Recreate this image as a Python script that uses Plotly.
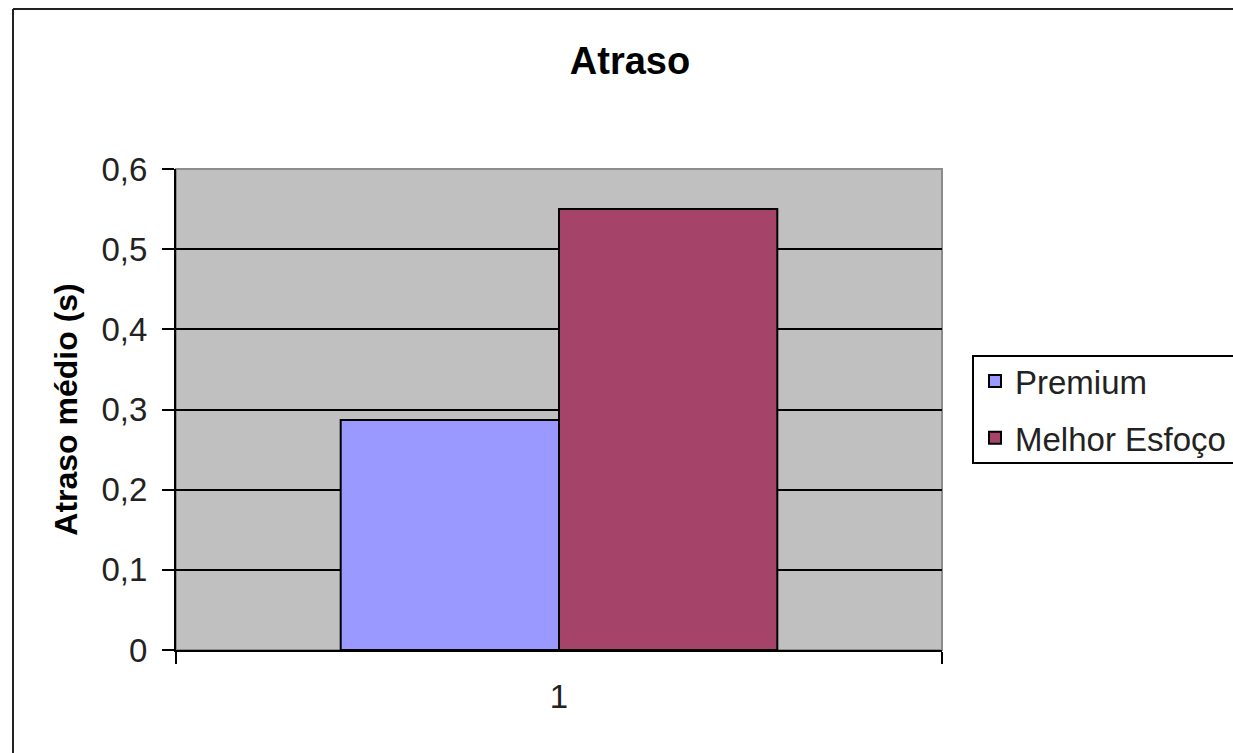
import plotly.graph_objects as go

# Data
categories = ["1"]
series_names = ["Premium", "Melhor Esfoço"]
premium_values = [0.287]
melhor_esforco_values = [0.55]
series_colors = ["#9999FF", "#A54468"]

y_tick_values = [0, 0.1, 0.2, 0.3, 0.4, 0.5, 0.6]
y_tick_labels = ["0", "0,1", "0,2", "0,3", "0,4", "0,5", "0,6"]

W, H = 1233, 753
ML, MR, MT, MB = 176, 291, 169, 103
PW, PH = W - ML - MR, H - MT - MB

FONT = "Liberation Sans, Arial, sans-serif"


def px_x(x):
    return (x - ML) / PW


def px_y(y):
    return (H - MB - y) / PH


fig = go.Figure()
for i, (name, vals) in enumerate(zip(series_names, [premium_values, melhor_esforco_values])):
    fig.add_trace(go.Bar(
        x=categories, y=vals, name=name,
        marker=dict(color=series_colors[i], line=dict(color="#000000", width=2)),
        legendgroup=name,
    ))

fig.update_layout(
    width=W, height=H,
    margin=dict(l=ML, r=MR, t=MT, b=MB, autoexpand=False),
    paper_bgcolor="white",
    plot_bgcolor="#C0C0C0",
    barmode="group",
    bargap=0.43,
    bargroupgap=0,
    font=dict(family=FONT, color="#000000"),
    title=dict(
        text="Atraso", x=630 / W, xanchor="center", y=1 - 61 / H, yanchor="middle",
        xref="container", yref="container",
        font=dict(family=FONT, size=38, weight="bold", color="#000000"),
    ),
    showlegend=True,
    legend=dict(
        x=px_x(975), xanchor="left", y=px_y(353), yanchor="top",
        borderwidth=0, bgcolor="rgba(0,0,0,0)",
        font=dict(family=FONT, size=33, color="#222222"),
        traceorder="grouped",
        tracegroupgap=11,
    ),
    xaxis=dict(
        type="category",
        range=[-0.5, 0.5],
        showline=True, linecolor="#000000", linewidth=2,
        ticks="outside", ticklen=12, tickwidth=2, tickcolor="#000000",
        tickson="boundaries",
        tickfont=dict(family=FONT, size=33, color="#222222"),
        ticklabelstandoff=16,
        showgrid=False, zeroline=False,
    ),
    yaxis=dict(
        range=[0, 0.6],
        tickvals=y_tick_values, ticktext=y_tick_labels,
        showline=True, linecolor="#000000", linewidth=2,
        ticks="outside", ticklen=12, tickwidth=2, tickcolor="#000000",
        tickfont=dict(family=FONT, size=33, color="#222222"),
        ticklabelstandoff=8,
        showgrid=True, gridcolor="#000000", gridwidth=2,
        zeroline=False,
        title=dict(text="Atraso médio (s)", standoff=14,
                   font=dict(family=FONT, size=32, weight="bold", color="#000000")),
    ),
    shapes=[
        # grey frame around the plot area
        dict(type="rect", xref="paper", yref="paper", x0=0, x1=1, y0=0, y1=1,
             line=dict(color="#8C8C8C", width=2), layer="below"),
        # outer chart border: left edge
        dict(type="line", xref="paper", yref="paper",
             x0=px_x(13), x1=px_x(13), y0=px_y(H), y1=px_y(9),
             line=dict(color="#222222", width=2), layer="below"),
        # outer chart border: top edge
        dict(type="line", xref="paper", yref="paper",
             x0=px_x(13), x1=px_x(W), y0=px_y(9), y1=px_y(9),
             line=dict(color="#222222", width=2), layer="below"),
        # legend frame (runs past the right edge of the canvas)
        dict(type="rect", xref="paper", yref="paper",
             x0=px_x(973), x1=px_x(W + 30), y0=px_y(463), y1=px_y(356),
             line=dict(color="#000000", width=2), fillcolor="white", layer="below"),
    ],
)

fig.write_html("out.html")
